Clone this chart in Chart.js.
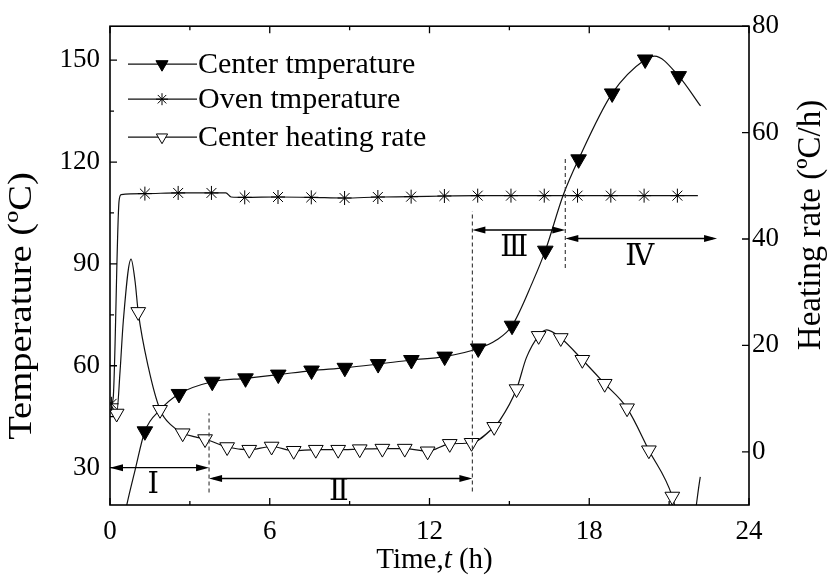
<!DOCTYPE html>
<html><head><meta charset="utf-8">
<script src="https://cdn.jsdelivr.net/npm/chart.js@4.4.0/dist/chart.umd.min.js"></script>
<style>html,body{margin:0;padding:0;background:#fff;}canvas{display:block;}</style>
</head><body>
<canvas id="c" width="832" height="581"></canvas>
<script>
// ---------------- data ----------------
const xTicks = [0, 6, 12, 18, 24];
const xMinorTicks = [3, 9, 15, 21];
const yTicks = [30, 60, 90, 120, 150];
const yMinorTicks = [45, 75, 105, 135];
const y2Ticks = [0, 20, 40, 60, 80];

// Center temperature (left axis, degC)
const centerMarkT = [1.31,2.59,3.84,5.09,6.32,7.57,8.82,10.07,11.32,12.57,13.83,15.10,16.35,17.60,18.86,20.10,21.36];
const centerMarkV = [40.7,51.7,55.3,56.3,57.4,58.6,59.4,60.5,61.7,62.7,65.1,71.8,93.9,120.8,140.2,150.2,145.3];
const centerExtraT = [0.40,0.63,0.94,1.88,14.50,15.89,17.02,20.45,22.18];
const centerExtraV = [10.0,19.0,29.2,47.0,67.5,85.0,110.2,151.2,136.5];

// Oven temperature (left axis, degC)
const ovenMarkT = [0.06,1.31,2.56,3.81,5.06,6.31,7.56,8.81,10.06,11.31,12.56,13.81,15.06,16.31,17.56,18.81,20.06,21.31];
const ovenMarkV = [48.8,110.7,110.9,110.9,109.6,109.7,109.6,109.4,109.7,109.8,110.0,110.1,110.1,110.1,110.1,110.1,110.1,110.1];
const ovenExtraT = [0.12,0.34,0.42,4.35,4.55,22.08];
const ovenExtraV = [50.5,108.5,110.4,110.9,109.7,110.1];

// Center heating rate (right axis, degC/h)
const rateMarkT = [0.25,1.06,1.88,2.73,3.57,4.40,5.23,6.07,6.90,7.73,8.57,9.38,10.23,11.07,11.93,12.76,13.58,14.43,15.27,16.10,16.93,17.74,18.58,19.42,20.24,21.12];
const rateMarkV = [7.2,26.3,7.9,3.5,2.4,0.9,0.4,1.0,0.2,0.4,0.4,0.5,0.6,0.6,0.1,1.5,1.7,4.7,11.8,21.8,21.4,17.3,12.8,8.2,0.3,-8.4];
const rateExtraT = [0.06,0.38,0.50,0.79,0.94,1.44,2.30,3.20,14.64,15.64,16.40,21.50,21.75,22.17];
const rateExtraV = [8.6,15.3,24.6,36.2,32.1,15.9,5.0,2.8,5.9,17.7,22.9,-16.0,-17.0,-4.7];

// Stage annotations (time in h, values on left axis)
const dividerT    = [3.72, 13.61, 17.10];
const dividerFrom = [22.7, 23.0, 88.8];
const dividerTo   = [46.0, 105.5, 121.1];
const arrowT1 = [0.00, 3.72, 13.61, 17.10];
const arrowT2 = [3.72, 13.61, 17.10, 22.80];
const arrowY  = [30.0, 26.8, 100.0, 97.5];
const stageText = ['\u2160', '\u2161', '\u2162', '\u2163'];
const stageT    = [1.62, 8.60, 15.18, 19.90];
const stageY    = [24.8, 22.6, 94.7, 91.8];

const legendLabels = ['Center tmperature', 'Oven tmperature', 'Center heating rate'];

// ---------------- helpers ----------------
function pts(tA, vA) { return tA.map((t, i) => ({x: t, y: vA[i]})); }
function merged(aT, aV, bT, bV) { return pts(aT.concat(bT), aV.concat(bV)).sort((p, q) => p.x - q.x); }

const SERIF = "'Liberation Serif', 'Times New Roman', 'DejaVu Serif', serif";
Chart.defaults.font.family = SERIF;
Chart.defaults.color = '#000';
const LINE = '#111';

const lineBase = {borderColor: LINE, borderWidth: 1.2, pointRadius: 0, cubicInterpolationMode: 'monotone', fill: false};
const markBase = {showLine: false, borderColor: '#000', borderWidth: 1};

const annotations = {
  id: 'annotations',
  afterDraw(chart) {
    const ctx = chart.ctx, a = chart.chartArea;
    const sx = chart.scales.x, sy = chart.scales.y, sy2 = chart.scales.y2;
    ctx.save();
    // frame
    ctx.strokeStyle = '#000'; ctx.lineWidth = 1.6;
    ctx.strokeRect(a.left, a.top, a.right - a.left, a.bottom - a.top);
    // inward ticks
    ctx.lineWidth = 1.3;
    ctx.beginPath();
    const tickX = (v, len) => { const px = sx.getPixelForValue(v);
      ctx.moveTo(px, a.bottom); ctx.lineTo(px, a.bottom - len);
      ctx.moveTo(px, a.top); ctx.lineTo(px, a.top + len); };
    xTicks.forEach(v => tickX(v, 7)); xMinorTicks.forEach(v => tickX(v, 4));
    const tickY = (v, len) => { const py = sy.getPixelForValue(v);
      ctx.moveTo(a.left, py); ctx.lineTo(a.left + len, py); };
    yTicks.forEach(v => tickY(v, 7)); yMinorTicks.forEach(v => tickY(v, 4));
    y2Ticks.forEach(v => { const py = sy2.getPixelForValue(v);
      ctx.moveTo(a.right, py); ctx.lineTo(a.right - 7, py); });
    ctx.stroke();

    // dashed dividers
    ctx.save();
    ctx.setLineDash([4, 3]); ctx.strokeStyle = '#333'; ctx.lineWidth = 1.1;
    dividerT.forEach((t, i) => {
      const px = sx.getPixelForValue(t);
      ctx.beginPath(); ctx.moveTo(px, sy.getPixelForValue(dividerFrom[i]));
      ctx.lineTo(px, sy.getPixelForValue(dividerTo[i])); ctx.stroke();
    });
    ctx.restore();

    // double arrows
    ctx.strokeStyle = '#000'; ctx.fillStyle = '#000'; ctx.lineWidth = 1.4;
    const head = (xTip, y, dir) => {
      ctx.beginPath(); ctx.moveTo(xTip, y); ctx.lineTo(xTip - dir * 13, y - 3.5);
      ctx.lineTo(xTip - dir * 13, y + 3.5); ctx.closePath(); ctx.fill();
    };
    arrowT1.forEach((t1, i) => {
      const x1 = sx.getPixelForValue(t1), x2 = sx.getPixelForValue(arrowT2[i]);
      const y = sy.getPixelForValue(arrowY[i]);
      ctx.beginPath(); ctx.moveTo(x1 + 4, y); ctx.lineTo(x2 - 4, y); ctx.stroke();
      head(x1, y, -1); head(x2, y, 1);
    });

    // stage labels
    ctx.font = '29px ' + SERIF; ctx.textAlign = 'center'; ctx.textBaseline = 'middle';
    stageText.forEach((s, i) => ctx.fillText(s, sx.getPixelForValue(stageT[i]), sy.getPixelForValue(stageY[i])));

    // axis titles
    ctx.font = '33px ' + SERIF;
    ctx.save(); ctx.translate(a.left - 88, 306); ctx.rotate(-Math.PI / 2); ctx.scale(1.17, 1);
    ctx.fillText('Temperature (\u00BAC)', 0, 0); ctx.restore();
    ctx.save(); ctx.translate(a.right + 62, 225); ctx.rotate(-Math.PI / 2);
    ctx.fillText('Heating rate (\u00BAC/h)', 0, 0); ctx.restore();
    // x title with italic t
    const parts = [['Time,', '29px ' + SERIF], ['t', 'italic 29px ' + SERIF], [' (h)', '29px ' + SERIF]];
    let total = 0; parts.forEach(p => { ctx.font = p[1]; total += ctx.measureText(p[0]).width; });
    let cx = (a.left + a.right) / 2 + 5 - total / 2; ctx.textAlign = 'left';
    parts.forEach(p => { ctx.font = p[1]; ctx.fillText(p[0], cx, 560); cx += ctx.measureText(p[0]).width; });

    // legend
    const rowY = [a.top + 38, a.top + 73, a.top + 111];
    const lx0 = a.left + 18, lxm = a.left + 52, lx1 = a.left + 87;
    ctx.font = '30px ' + SERIF; ctx.textAlign = 'left'; ctx.textBaseline = 'middle';
    const styles = [{s: 'triangle', r: 7, fill: '#000'}, {s: 'star', r: 6, fill: '#000'}, {s: 'triangle', r: 6.5, fill: '#fff'}];
    legendLabels.forEach((lab, i) => {
      const y = rowY[i];
      ctx.strokeStyle = LINE; ctx.lineWidth = 1.2;
      ctx.beginPath(); ctx.moveTo(lx0, y); ctx.lineTo(lx1, y); ctx.stroke();
      ctx.strokeStyle = '#000'; ctx.lineWidth = 1; ctx.fillStyle = styles[i].fill;
      Chart.helpers.drawPoint(ctx, {pointStyle: styles[i].s, radius: styles[i].r, rotation: styles[i].s === 'triangle' ? 180 : 0, borderWidth: 1}, lxm, y);
      ctx.fillStyle = '#000';
      ctx.fillText(lab, lx1 + 1, y + 1);
    });
    ctx.restore();
  }
};

new Chart(document.getElementById('c'), {
  type: 'line',
  data: {datasets: [
    Object.assign({label: 'ctm', data: pts(centerMarkT, centerMarkV), yAxisID: 'y', pointStyle: 'triangle', pointRotation: 180, pointRadius: 9, pointBackgroundColor: '#000'}, markBase),
    Object.assign({label: 'ovm', data: pts(ovenMarkT, ovenMarkV), yAxisID: 'y', pointStyle: 'star', pointRadius: 7, pointBackgroundColor: '#000'}, markBase),
    Object.assign({label: 'hrm', data: pts(rateMarkT, rateMarkV), yAxisID: 'y2', pointStyle: 'triangle', pointRotation: 180, pointRadius: 8.5, pointBackgroundColor: '#fff'}, markBase),
    Object.assign({label: legendLabels[0], data: merged(centerMarkT, centerMarkV, centerExtraT, centerExtraV), yAxisID: 'y'}, lineBase),
    Object.assign({label: legendLabels[1], data: merged(ovenMarkT, ovenMarkV, ovenExtraT, ovenExtraV), yAxisID: 'y'}, lineBase),
    Object.assign({label: legendLabels[2], data: merged(rateMarkT, rateMarkV, rateExtraT, rateExtraV), yAxisID: 'y2'}, lineBase)
  ]},
  options: {
    responsive: false, animation: false, devicePixelRatio: 1,
    layout: {padding: 0},
    plugins: {legend: {display: false}, tooltip: {enabled: false}},
    scales: {
      x: {type: 'linear', position: 'bottom', min: 0, max: 24,
          grid: {display: false, drawTicks: false}, border: {display: false},
          ticks: {font: {size: 27}, color: '#000', padding: 11, autoSkip: false, maxRotation: 0},
          afterBuildTicks: s => { s.ticks = xTicks.map(v => ({value: v})); },
          afterFit: s => { s.height = 76; }},
      x2: {type: 'linear', position: 'top', min: 0, max: 24,
          grid: {display: false, drawTicks: false}, border: {display: false}, ticks: {display: false},
          afterFit: s => { s.height = 24; }},
      y: {type: 'linear', position: 'left', min: 19, max: 160,
          grid: {display: false, drawTicks: false}, border: {display: false},
          ticks: {font: {size: 27}, color: '#000', padding: 10, autoSkip: false},
          afterBuildTicks: s => { s.ticks = yTicks.map(v => ({value: v})); },
          afterFit: s => { s.width = 110; }},
      y2: {type: 'linear', position: 'right', min: -10, max: 80,
          grid: {display: false, drawTicks: false}, border: {display: false},
          ticks: {font: {size: 27}, color: '#000', padding: 3, autoSkip: false},
          afterBuildTicks: s => { s.ticks = y2Ticks.map(v => ({value: v})); },
          afterFit: s => { s.width = 83; }}
    }
  },
  plugins: [annotations]
});
</script>
</body></html>
